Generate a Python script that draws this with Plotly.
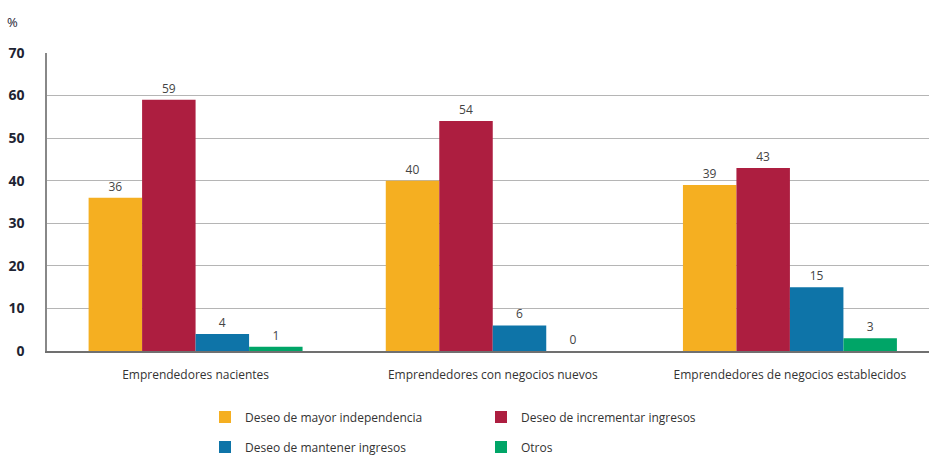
import plotly.graph_objects as go

categories = ["Emprendedores nacientes", "Emprendedores con negocios nuevos",
              "Emprendedores de negocios establecidos"]
series_names = ["Deseo de mayor independencia", "Deseo de incrementar ingresos",
                "Deseo de mantener ingresos", "Otros"]
independencia = [36, 40, 39]
incrementar = [59, 54, 43]
mantener = [4, 6, 15]
otros = [1, 0, 3]
y_ticks = [0, 10, 20, 30, 40, 50, 60, 70]

colors = ["#F5AF21", "#AD1E40", "#0E74A8", "#00A567"]
values = [independencia, incrementar, mantener, otros]
legend_ids = ["legend", "legend", "legend2", "legend2"]

FONT = "Open Sans"
fig = go.Figure()
for name, vals, col, lg in zip(series_names, values, colors, legend_ids):
    fig.add_trace(go.Bar(
        x=categories, y=vals, name=name, marker=dict(color=col, line=dict(width=0)),
        text=[str(v) for v in vals], textposition="outside",
        textfont=dict(family=FONT, size=12, color="#444"),
        cliponaxis=False, legend=lg,
    ))

legend_common = dict(orientation="h", xref="container", yref="container",
                      xanchor="left", yanchor="middle",
                      entrywidth=231, entrywidthmode="pixels",
                      font=dict(size=12, color="#333"), bgcolor="rgba(0,0,0,0)",
                      borderwidth=0)

fig.update_layout(
    width=929, height=456,
    margin=dict(l=47, r=0, t=53, b=105, autoexpand=False),
    plot_bgcolor="white", paper_bgcolor="white",
    barmode="group", bargap=0.28, bargroupgap=0,
    font=dict(family=FONT, size=12, color="#333"),
    showlegend=True,
    legend=dict(legend_common, x=205 / 929, y=1 - 417 / 456),
    legend2=dict(legend_common, x=205 / 929, y=1 - 447 / 456),
    xaxis=dict(type="category", range=[-0.5, 2.468], showgrid=False, automargin=False,
               showline=True, linecolor="#707070", linewidth=2,
               tickfont=dict(size=12, color="#333"), ticks="", ticklabelstandoff=12),
    yaxis=dict(range=[0, 70], tickvals=y_ticks, showgrid=True, gridcolor="#b5b5b5",
               gridwidth=1, zeroline=False, showline=True, linecolor="#888",
               linewidth=1.5, ticks="", ticklabelstandoff=18, automargin=False,
               tickfont=dict(size=14, color="#1e2433", family=FONT, weight="bold")),
    annotations=[dict(text="%", xref="paper", yref="paper", x=-0.0395, y=1.105,
                      xanchor="center", yanchor="middle", showarrow=False,
                      font=dict(size=13, color="#1e2433"))],
)

fig.write_html("out.html", config={"displayModeBar": False},
               post_script="document.body.style.margin='0';document.body.style.overflow='hidden';")
